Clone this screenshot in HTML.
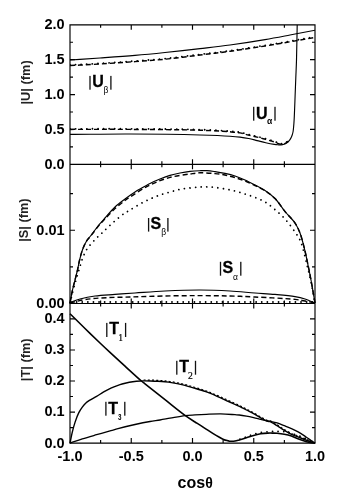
<!DOCTYPE html>
<html><head><meta charset="utf-8"><title>chart</title>
<style>html,body{margin:0;padding:0;background:#fff;}svg{display:block;filter:grayscale(1);}</style>
</head><body>
<svg width="350" height="498" viewBox="0 0 350 498">
<rect width="350" height="498" fill="#fff"/>
<defs><clipPath id="c1"><rect x="70.0" y="24.8" width="245.0" height="139.5"/></clipPath></defs>
<g clip-path="url(#c1)">
<path d="M70.00 60.00 C80.00 59.33 89.62 58.73 100.00 58.00 C111.22 57.21 123.79 56.36 135.00 55.40 C145.39 54.51 154.62 53.58 165.00 52.50 C176.22 51.33 188.79 49.90 200.00 48.60 C210.39 47.40 219.63 46.42 230.00 45.00 C241.23 43.46 254.32 41.41 265.00 39.60 C274.04 38.07 281.67 36.57 290.00 35.00 C298.34 33.43 306.67 31.80 315.00 30.20" fill="none" stroke="#000" stroke-width="1.15" stroke-linejoin="round"/>
<path d="M70.00 65.60 C80.00 65.07 89.62 64.63 100.00 64.00 C111.22 63.32 123.78 62.43 135.00 61.60 C145.39 60.83 154.63 60.24 165.00 59.20 C176.23 58.08 188.78 56.36 200.00 55.00 C210.39 53.74 219.63 52.73 230.00 51.30 C241.23 49.76 254.32 47.71 265.00 46.00 C274.04 44.56 281.67 43.23 290.00 41.80 C298.34 40.37 306.67 38.87 315.00 37.40" fill="none" stroke="#000" stroke-width="1.45" stroke-dasharray="5 3"/>
<path d="M70.00 65.60 C80.00 65.07 89.62 64.63 100.00 64.00 C111.22 63.32 123.78 62.43 135.00 61.60 C145.39 60.83 154.63 60.24 165.00 59.20 C176.23 58.08 188.78 56.36 200.00 55.00 C210.39 53.74 219.63 52.73 230.00 51.30 C241.23 49.76 254.32 47.71 265.00 46.00 C274.04 44.56 281.67 43.23 290.00 41.80 C298.34 40.37 306.67 38.87 315.00 37.40" fill="none" stroke="#000" stroke-width="1.8" stroke-linecap="round" stroke-dasharray="0.01 5.6" transform="translate(0,-0.6)"/>
<path d="M70.00 134.40 C90.00 134.27 109.23 133.92 130.00 134.00 C152.43 134.09 181.54 134.50 200.00 135.00 C212.09 135.33 222.68 135.72 230.00 136.20 C234.23 136.47 236.80 136.70 240.00 137.10 C242.98 137.48 245.75 137.92 248.60 138.50 C251.45 139.08 254.26 139.89 257.10 140.60 C259.96 141.32 262.82 142.17 265.70 142.80 C268.56 143.43 272.02 144.07 274.30 144.40 C275.78 144.62 276.83 144.72 278.00 144.80 C279.05 144.87 280.00 144.98 281.00 144.90 C282.00 144.82 283.09 144.62 284.00 144.30 C284.84 144.00 285.55 143.58 286.30 143.10 C287.09 142.59 287.90 142.02 288.60 141.30 C289.35 140.53 290.02 139.60 290.60 138.60 C291.23 137.52 291.78 136.21 292.20 135.00 C292.60 133.84 292.85 132.92 293.10 131.50 C293.48 129.37 293.69 126.19 293.90 123.40 C294.13 120.43 294.23 117.78 294.40 114.20 C294.63 109.18 294.87 102.12 295.10 96.10 C295.33 90.09 295.57 84.11 295.80 78.10 C296.03 72.08 296.29 67.03 296.50 60.00 C296.79 50.20 296.97 36.53 297.20 24.80" fill="none" stroke="#000" stroke-width="1.15" stroke-linejoin="round"/>
<path d="M70.00 129.40 C90.00 129.40 109.23 129.28 130.00 129.40 C152.43 129.53 181.54 129.60 200.00 130.20 C212.09 130.59 222.69 131.20 230.00 131.80 C234.23 132.15 236.81 132.32 240.00 132.90 C242.99 133.44 245.74 134.40 248.60 135.10 C251.44 135.80 254.26 136.39 257.10 137.10 C259.96 137.82 262.84 138.60 265.70 139.40 C268.57 140.20 271.82 141.06 274.30 141.90 C276.24 142.56 277.82 143.53 279.40 143.90 C280.68 144.20 281.85 144.38 283.00 144.20 C284.15 144.02 285.33 143.37 286.30 142.80 C287.17 142.28 287.83 141.60 288.60 141.00" fill="none" stroke="#000" stroke-width="1.45" stroke-dasharray="5 3"/>
<path d="M70.00 129.40 C90.00 129.40 109.23 129.28 130.00 129.40 C152.43 129.53 181.54 129.60 200.00 130.20 C212.09 130.59 222.69 131.20 230.00 131.80 C234.23 132.15 236.81 132.32 240.00 132.90 C242.99 133.44 245.74 134.40 248.60 135.10 C251.44 135.80 254.26 136.39 257.10 137.10 C259.96 137.82 262.84 138.60 265.70 139.40 C268.57 140.20 271.82 141.06 274.30 141.90 C276.24 142.56 277.82 143.53 279.40 143.90 C280.68 144.20 281.85 144.38 283.00 144.20 C284.15 144.02 285.33 143.37 286.30 142.80 C287.17 142.28 287.83 141.60 288.60 141.00" fill="none" stroke="#000" stroke-width="1.8" stroke-linecap="round" stroke-dasharray="0.01 5.6" transform="translate(0,-0.6)"/>
</g>
<path d="M70.00 303.00 C70.83 298.67 71.61 294.04 72.50 290.00 C73.29 286.44 74.17 283.33 75.00 280.00 C75.83 276.67 76.73 273.34 77.50 270.00 C78.26 266.67 78.79 263.32 79.60 260.00 C80.42 256.65 81.21 253.22 82.40 250.00 C83.58 246.82 85.16 243.30 86.70 240.80 C87.90 238.86 89.19 237.70 90.50 236.00 C91.95 234.12 93.45 232.01 95.00 230.00 C96.61 227.91 98.31 225.73 100.00 223.70 C101.64 221.73 103.04 220.20 105.00 218.00 C107.75 214.92 111.53 210.26 115.00 207.00 C118.22 203.98 121.63 201.53 125.00 199.00 C128.29 196.53 132.21 193.81 135.00 192.00 C136.93 190.75 138.04 190.14 140.00 189.00 C142.75 187.40 146.63 185.08 150.00 183.40 C153.29 181.76 156.64 180.34 160.00 179.00 C163.31 177.68 166.64 176.41 170.00 175.40 C173.31 174.41 176.65 173.67 180.00 173.00 C183.32 172.34 186.66 171.78 190.00 171.40 C193.32 171.02 196.96 170.83 200.00 170.70 C202.54 170.59 204.59 170.47 207.00 170.60 C209.58 170.74 212.19 171.17 215.00 171.60 C218.15 172.08 221.68 172.67 225.00 173.40 C228.35 174.14 231.70 174.92 235.00 176.00 C238.37 177.11 241.70 178.52 245.00 180.00 C248.37 181.51 251.68 183.26 255.00 185.00 C258.35 186.76 261.76 188.33 265.00 190.50 C268.44 192.79 271.85 195.29 275.00 198.50 C278.57 202.13 281.60 207.35 285.00 211.50 C288.27 215.50 292.41 219.14 295.00 223.00 C297.21 226.31 298.50 229.10 300.00 233.00 C301.94 238.05 303.61 245.36 305.00 251.00 C306.21 255.94 307.02 260.25 308.00 265.00 C309.02 269.91 309.96 274.46 311.00 280.00 C312.28 286.84 313.67 295.33 315.00 303.00" fill="none" stroke="#000" stroke-width="1.15" stroke-linejoin="round"/>
<path d="M70.00 303.00 C70.83 298.67 71.61 294.04 72.50 290.00 C73.29 286.44 74.17 283.33 75.00 280.00 C75.83 276.67 76.73 273.34 77.50 270.00 C78.26 266.67 78.79 263.32 79.60 260.00 C80.42 256.65 81.21 253.22 82.40 250.00 C83.58 246.82 85.14 243.24 86.70 240.80 C87.89 238.94 89.20 237.91 90.50 236.30 C91.95 234.50 93.45 232.47 95.00 230.50 C96.62 228.44 98.29 226.16 100.00 224.20 C101.62 222.34 103.05 221.04 105.00 219.00 C107.76 216.11 111.56 211.66 115.00 208.50 C118.24 205.53 122.21 202.59 125.00 200.50 C126.93 199.06 127.74 198.46 130.00 197.00 C134.41 194.14 143.18 188.31 150.00 185.00 C156.53 181.83 163.24 179.24 170.00 177.40 C176.58 175.61 184.47 174.80 190.00 174.00 C193.90 173.44 196.32 172.92 200.00 172.80 C204.49 172.65 210.51 173.17 215.00 173.60 C218.68 173.95 221.69 174.34 225.00 175.00 C228.35 175.67 231.68 176.61 235.00 177.60 C238.35 178.60 241.70 179.70 245.00 181.00 C248.37 182.33 251.69 183.90 255.00 185.50 C258.36 187.13 261.76 188.62 265.00 190.70 C268.44 192.91 271.85 195.33 275.00 198.50 C278.58 202.10 281.60 207.35 285.00 211.50 C288.27 215.50 292.41 219.14 295.00 223.00 C297.21 226.31 298.50 229.10 300.00 233.00 C301.94 238.05 303.61 245.36 305.00 251.00 C306.21 255.94 307.02 260.25 308.00 265.00 C309.02 269.91 309.96 274.46 311.00 280.00 C312.28 286.84 313.67 295.33 315.00 303.00" fill="none" stroke="#000" stroke-width="1.45" stroke-dasharray="5 3"/>
<path d="M70.00 303.00 C71.00 299.00 71.98 294.91 73.00 291.00 C73.98 287.25 74.98 283.57 76.00 280.00 C76.98 276.58 78.00 273.33 79.00 270.00 C80.00 266.67 80.79 263.30 82.00 260.00 C83.24 256.63 84.43 253.20 86.40 250.00 C88.54 246.51 91.84 242.96 94.60 240.00 C97.05 237.37 99.29 235.56 102.00 233.00 C105.30 229.88 109.27 225.88 113.00 222.60 C116.61 219.42 120.81 215.84 124.00 213.60 C126.24 212.03 127.75 211.35 130.00 210.00 C132.91 208.25 136.63 205.85 140.00 204.00 C143.30 202.19 146.63 200.51 150.00 199.00 C153.30 197.52 156.64 196.17 160.00 195.00 C163.31 193.84 166.66 192.94 170.00 192.00 C173.32 191.07 176.65 190.07 180.00 189.40 C183.31 188.74 186.66 188.40 190.00 188.00 C193.33 187.60 196.96 187.17 200.00 187.00 C202.54 186.86 204.59 186.84 207.00 186.90 C209.58 186.96 212.19 187.09 215.00 187.40 C218.16 187.75 221.67 188.40 225.00 189.00 C228.34 189.60 231.69 190.17 235.00 191.00 C238.35 191.84 241.68 192.94 245.00 194.00 C248.34 195.07 251.70 196.08 255.00 197.40 C258.37 198.74 261.77 200.06 265.00 202.00 C268.45 204.07 271.74 206.84 275.00 209.60 C278.41 212.49 281.80 215.47 285.00 219.00 C288.50 222.86 292.31 228.13 295.00 232.00 C297.04 234.93 298.67 237.17 300.00 240.00 C301.34 242.84 302.00 245.55 303.00 249.00 C304.32 253.55 305.69 259.58 307.00 265.00 C308.35 270.58 309.73 276.02 311.00 282.00 C312.41 288.62 313.67 296.00 315.00 303.00" fill="none" stroke="#000" stroke-width="1.8" stroke-linecap="round" stroke-dasharray="0.01 5.6"/>
<path d="M70.00 303.00 C71.33 302.33 72.51 301.62 74.00 301.00 C75.77 300.26 77.52 299.66 80.00 299.00 C83.85 297.98 89.62 296.75 95.00 296.00 C101.16 295.14 108.33 294.90 115.00 294.40 C121.67 293.90 127.66 293.50 135.00 293.00 C143.99 292.39 154.61 291.49 165.00 291.00 C176.21 290.47 188.78 289.97 200.00 290.00 C210.39 290.02 220.46 290.46 230.00 291.00 C238.72 291.49 247.13 292.41 255.00 293.00 C262.04 293.53 268.34 293.80 275.00 294.40 C281.67 295.00 289.50 295.64 295.00 296.60 C298.93 297.29 302.26 298.13 305.00 299.00 C306.98 299.63 308.33 300.33 310.00 301.00 C311.67 301.67 313.33 302.33 315.00 303.00" fill="none" stroke="#000" stroke-width="1.15" stroke-linejoin="round"/>
<path d="M70.00 303.00 C72.67 302.33 75.42 301.58 78.00 301.00 C80.40 300.46 82.22 300.03 85.00 299.60 C89.05 298.98 94.13 298.41 100.00 298.00 C108.28 297.42 119.61 297.32 130.00 297.00 C141.22 296.65 153.33 296.23 165.00 296.00 C176.67 295.77 188.78 295.59 200.00 295.60 C210.39 295.61 220.46 295.75 230.00 296.00 C238.71 296.23 245.69 296.53 255.00 297.00 C266.78 297.59 286.13 298.43 295.00 299.40 C299.46 299.89 301.67 300.40 305.00 301.00 C308.34 301.60 311.67 302.33 315.00 303.00" fill="none" stroke="#000" stroke-width="1.45" stroke-dasharray="5 3"/>
<path d="M71.00 302.00 C152.00 302.00 233.00 302.00 314.00 302.00" fill="none" stroke="#000" stroke-width="1.8" stroke-linecap="round" stroke-dasharray="0.01 5.6"/>
<path d="M70.00 313.70 C75.00 318.63 79.99 323.60 85.00 328.50 C89.99 333.37 95.49 338.70 100.00 343.00 C103.66 346.49 106.32 348.98 110.00 352.40 C114.48 356.57 119.88 361.53 125.00 366.20 C130.33 371.06 137.88 378.05 141.40 381.00 C143.00 382.34 143.32 382.48 145.00 383.80 C148.98 386.93 158.33 394.43 165.00 399.70 C171.66 404.96 179.41 411.37 185.00 415.40 C188.84 418.17 192.35 420.32 195.00 422.00 C196.72 423.09 197.77 423.64 199.30 424.60 C201.07 425.71 202.91 426.94 205.00 428.30 C207.57 429.97 211.05 432.34 213.60 433.90 C215.59 435.12 217.26 436.05 219.00 437.00 C220.59 437.87 222.16 438.77 223.60 439.40 C224.80 439.92 225.95 440.29 227.00 440.60 C227.89 440.86 228.66 441.08 229.50 441.20 C230.33 441.31 231.13 441.33 232.00 441.30 C232.96 441.27 233.92 441.19 235.00 441.00 C236.31 440.77 237.69 440.34 239.30 439.90 C241.38 439.33 244.03 438.54 246.40 437.80 C248.80 437.05 251.19 436.07 253.60 435.40 C255.96 434.74 258.31 434.18 260.70 433.80 C263.08 433.42 265.70 433.21 267.90 433.10 C269.74 433.01 271.39 433.06 273.00 433.10 C274.44 433.14 275.55 433.15 277.10 433.30 C279.17 433.49 281.92 433.83 284.30 434.30 C286.69 434.77 289.05 435.32 291.40 436.10 C293.82 436.91 296.20 438.18 298.60 439.10 C300.96 440.01 303.61 441.02 305.70 441.60 C307.30 442.05 308.51 442.25 310.00 442.50 C311.60 442.76 313.33 442.90 315.00 443.10" fill="none" stroke="#000" stroke-width="1.6" stroke-linejoin="round"/>
<path d="M240.00 439.20 C242.13 438.40 244.20 437.61 246.40 436.80 C248.73 435.94 251.19 434.90 253.60 434.20 C255.95 433.51 258.31 433.02 260.70 432.60 C263.08 432.18 265.70 431.90 267.90 431.70 C269.74 431.53 271.39 431.45 273.00 431.40 C274.44 431.36 275.54 431.38 277.10 431.40 C279.16 431.43 282.17 431.30 284.30 431.60 C286.05 431.84 287.51 432.38 289.00 432.80 C290.37 433.18 291.48 433.57 292.90 434.00 C294.62 434.52 296.61 435.04 298.60 435.70 C300.85 436.45 303.65 437.41 305.70 438.30 C307.34 439.02 308.51 439.73 310.00 440.50 C311.61 441.33 313.33 442.23 315.00 443.10" fill="none" stroke="#000" stroke-width="1.8" stroke-linecap="round" stroke-dasharray="0.01 5.6"/>
<path d="M70.00 443.10 C70.77 439.43 71.43 435.67 72.30 432.10 C73.14 428.67 74.02 425.34 75.10 422.10 C76.16 418.94 77.37 415.56 78.70 412.90 C79.81 410.69 81.03 408.83 82.30 407.10 C83.44 405.54 84.63 404.06 85.90 402.90 C87.02 401.88 88.00 401.29 89.40 400.40 C91.34 399.17 94.23 397.81 96.60 396.40 C99.00 394.98 101.30 393.29 103.70 391.90 C106.06 390.53 108.48 389.21 110.90 388.10 C113.25 387.02 115.95 386.03 118.00 385.30 C119.54 384.75 120.53 384.44 122.10 384.00 C124.16 383.42 126.90 382.67 129.30 382.20 C131.66 381.74 134.02 381.42 136.40 381.20 C138.79 380.98 141.21 380.93 143.60 380.90 C145.97 380.87 148.33 380.93 150.70 381.00 C153.09 381.07 155.51 381.17 157.90 381.30 C160.28 381.43 162.70 381.58 165.00 381.80 C167.19 382.01 168.96 382.20 171.40 382.60 C174.68 383.13 179.09 383.99 182.90 384.90 C186.73 385.82 190.51 386.97 194.30 388.10 C198.11 389.24 201.93 390.35 205.70 391.70 C209.53 393.07 213.31 394.68 217.10 396.30 C220.94 397.94 224.77 399.78 228.60 401.50 C232.41 403.21 236.77 405.02 240.00 406.60 C242.46 407.80 244.20 408.85 246.40 410.00 C248.73 411.22 251.23 412.39 253.60 413.70 C255.99 415.02 258.30 416.61 260.70 417.90 C263.07 419.17 266.18 420.92 267.90 421.40 C268.78 421.65 269.13 421.32 270.00 421.60 C271.71 422.15 274.74 424.25 277.10 425.70 C279.51 427.18 281.88 428.95 284.30 430.40 C286.65 431.81 288.99 433.17 291.40 434.30 C293.76 435.40 296.21 436.15 298.60 437.10 C300.98 438.05 303.16 439.06 305.70 440.00 C308.57 441.06 311.90 442.07 315.00 443.10" fill="none" stroke="#000" stroke-width="1.4" stroke-linejoin="round"/>
<path d="M143.60 380.00 C145.97 380.03 148.33 380.03 150.70 380.10 C153.09 380.17 155.51 380.27 157.90 380.40 C160.28 380.53 162.70 380.68 165.00 380.90 C167.19 381.11 168.96 381.30 171.40 381.70 C174.68 382.23 179.09 383.09 182.90 384.00 C186.73 384.92 190.51 386.07 194.30 387.20 C198.11 388.34 201.93 389.45 205.70 390.80 C209.53 392.17 213.31 393.78 217.10 395.40 C220.94 397.04 224.77 398.88 228.60 400.60 C232.41 402.31 236.77 404.12 240.00 405.70 C242.46 406.90 244.20 407.95 246.40 409.10 C248.73 410.32 251.23 411.49 253.60 412.80 C255.99 414.12 258.30 415.71 260.70 417.00 C263.07 418.27 266.18 420.02 267.90 420.50 C268.78 420.75 269.13 420.42 270.00 420.70 C271.71 421.25 274.74 423.35 277.10 424.80 C279.51 426.28 281.88 428.05 284.30 429.50 C286.65 430.91 288.99 432.27 291.40 433.40 C293.76 434.50 296.21 435.25 298.60 436.20 C300.98 437.15 303.16 438.16 305.70 439.10 C308.57 440.16 311.90 441.17 315.00 442.20" fill="none" stroke="#000" stroke-width="1.2" stroke-dasharray="2 2.2"/>
<path d="M70.00 443.10 C74.10 441.70 78.03 440.26 82.30 438.90 C86.87 437.45 91.83 436.07 96.60 434.70 C101.36 433.33 106.96 431.83 110.90 430.70 C113.68 429.90 115.11 429.37 118.00 428.60 C122.44 427.41 129.50 425.71 135.00 424.50 C140.14 423.37 145.50 422.29 150.00 421.50 C153.66 420.86 156.67 420.55 160.00 420.00 C163.34 419.45 166.33 418.85 170.00 418.20 C174.49 417.41 180.49 416.15 185.00 415.60 C188.66 415.16 191.56 415.11 195.00 414.90 C198.67 414.67 202.38 414.46 206.40 414.30 C210.90 414.12 215.93 413.83 220.70 413.90 C225.47 413.97 231.62 414.49 235.00 414.70 C236.85 414.82 237.69 414.82 239.30 415.00 C241.38 415.23 244.03 415.67 246.40 416.10 C248.80 416.54 251.21 417.07 253.60 417.60 C255.98 418.13 258.32 418.74 260.70 419.30 C263.09 419.87 265.35 420.44 267.90 421.00 C270.77 421.64 274.25 422.06 277.10 422.90 C279.68 423.66 281.91 424.75 284.30 425.70 C286.68 426.65 289.04 427.55 291.40 428.60 C293.81 429.68 296.25 430.77 298.60 432.10 C301.02 433.46 303.48 435.20 305.70 436.70 C307.72 438.06 309.71 439.54 311.40 440.70 C312.73 441.61 313.80 442.30 315.00 443.10" fill="none" stroke="#000" stroke-width="1.3" stroke-linejoin="round"/>
<path d="M70.00 24.80 H315.00 V443.10 H70.00 Z M70.00 164.30 H315.00 M70.00 303.50 H315.00 M100.62 24.80 v3.00 M100.62 161.30 v6.00 M100.62 300.50 v6.00 M100.62 443.10 v-3.00 M131.25 24.80 v5.00 M131.25 159.30 v10.00 M131.25 298.50 v10.00 M131.25 443.10 v-5.00 M161.88 24.80 v3.00 M161.88 161.30 v6.00 M161.88 300.50 v6.00 M161.88 443.10 v-3.00 M192.50 24.80 v5.00 M192.50 159.30 v10.00 M192.50 298.50 v10.00 M192.50 443.10 v-5.00 M223.12 24.80 v3.00 M223.12 161.30 v6.00 M223.12 300.50 v6.00 M223.12 443.10 v-3.00 M253.75 24.80 v5.00 M253.75 159.30 v10.00 M253.75 298.50 v10.00 M253.75 443.10 v-5.00 M284.38 24.80 v3.00 M284.38 161.30 v6.00 M284.38 300.50 v6.00 M284.38 443.10 v-3.00 M70.00 129.43 h5.00 M315.00 129.43 h-5.00 M70.00 94.55 h5.00 M315.00 94.55 h-5.00 M70.00 59.68 h5.00 M315.00 59.68 h-5.00 M70.00 146.86 h3.00 M315.00 146.86 h-3.00 M70.00 111.99 h3.00 M315.00 111.99 h-3.00 M70.00 77.11 h3.00 M315.00 77.11 h-3.00 M70.00 42.24 h3.00 M315.00 42.24 h-3.00 M70.00 230.20 h5.00 M315.00 230.20 h-5.00 M70.00 266.85 h3.00 M315.00 266.85 h-3.00 M70.00 193.55 h3.00 M315.00 193.55 h-3.00 M70.00 412.05 h5.00 M315.00 412.05 h-5.00 M70.00 381.00 h5.00 M315.00 381.00 h-5.00 M70.00 349.95 h5.00 M315.00 349.95 h-5.00 M70.00 318.90 h5.00 M315.00 318.90 h-5.00 M70.00 427.58 h3.00 M315.00 427.58 h-3.00 M70.00 396.53 h3.00 M315.00 396.53 h-3.00 M70.00 365.48 h3.00 M315.00 365.48 h-3.00 M70.00 334.43 h3.00 M315.00 334.43 h-3.00 " stroke="#000" stroke-width="1.15" fill="none"/>
<g font-family="Liberation Sans, sans-serif" font-weight="bold" font-size="14.5" fill="#000" text-anchor="end">
<text x="64.6" y="29.20">2.0</text>
<text x="64.6" y="64.08">1.5</text>
<text x="64.6" y="98.95">1.0</text>
<text x="64.6" y="133.83">0.5</text>
<text x="64.6" y="168.70">0.0</text>
<text x="64.6" y="234.60">0.01</text>
<text x="64.6" y="307.90">0.00</text>
<text x="64.6" y="323.30">0.4</text>
<text x="64.6" y="354.35">0.3</text>
<text x="64.6" y="385.40">0.2</text>
<text x="64.6" y="416.45">0.1</text>
<text x="64.6" y="447.50">0.0</text>
</g>
<g font-family="Liberation Sans, sans-serif" font-weight="bold" font-size="14.5" fill="#000" text-anchor="middle">
<text x="70.00" y="460.7">-1.0</text>
<text x="131.25" y="460.7">-0.5</text>
<text x="192.50" y="460.7">0.0</text>
<text x="253.75" y="460.7">0.5</text>
<text x="315.00" y="460.7">1.0</text>
</g>
<text x="177.6" y="487.7" font-family="Liberation Sans, sans-serif" font-weight="bold" font-size="16" fill="#000">cos<tspan font-size="14">θ</tspan></text>
<text font-family="Liberation Sans, sans-serif" font-weight="bold" font-size="12.8" fill="#222" text-anchor="middle" transform="translate(30.2,82.4) rotate(-90)">|U| (fm)</text>
<text font-family="Liberation Sans, sans-serif" font-weight="bold" font-size="12.8" fill="#222" text-anchor="middle" transform="translate(28.1,220.1) rotate(-90)">|S| (fm)</text>
<text font-family="Liberation Sans, sans-serif" font-weight="bold" font-size="12.8" fill="#222" text-anchor="middle" transform="translate(30.3,359.8) rotate(-90)">|T| (fm)</text>
<g font-family="Liberation Sans, sans-serif" fill="#000">
<rect x="89.35" y="75.90" width="1.3" height="13.80" fill="#111"/>
<text x="92.30" y="87.30" font-size="16" font-weight="bold" stroke="#000" stroke-width="0.3">U</text>
<text x="103.40" y="92.60" font-size="8.5">β</text>
<rect x="110.25" y="75.90" width="1.3" height="13.80" fill="#111"/>
</g>
<g font-family="Liberation Sans, sans-serif" fill="#000">
<rect x="253.05" y="106.80" width="1.3" height="13.90" fill="#111"/>
<text x="256.00" y="118.50" font-size="16" font-weight="bold" stroke="#000" stroke-width="0.3">U</text>
<text x="267.00" y="124.00" font-size="8.5" font-weight="bold">α</text>
<rect x="274.35" y="106.80" width="1.3" height="13.90" fill="#111"/>
</g>
<g font-family="Liberation Sans, sans-serif" fill="#000">
<rect x="147.95" y="218.00" width="1.3" height="13.60" fill="#111"/>
<text x="150.40" y="229.10" font-size="16" font-weight="bold" stroke="#000" stroke-width="0.3">S</text>
<text x="161.30" y="235.30" font-size="8.5">β</text>
<rect x="167.25" y="218.00" width="1.3" height="13.60" fill="#111"/>
</g>
<g font-family="Liberation Sans, sans-serif" fill="#000">
<rect x="219.85" y="261.80" width="1.3" height="13.90" fill="#111"/>
<text x="222.40" y="273.30" font-size="16" font-weight="bold" stroke="#000" stroke-width="0.3">S</text>
<text x="233.00" y="279.70" font-size="8.5">α</text>
<rect x="240.15" y="261.80" width="1.3" height="13.90" fill="#111"/>
</g>
<g font-family="Liberation Sans, sans-serif" fill="#000">
<rect x="106.15" y="322.90" width="1.3" height="14.10" fill="#111"/>
<text x="109.20" y="334.40" font-size="16" font-weight="bold" stroke="#000" stroke-width="0.3">T</text>
<text x="118.20" y="340.60" font-size="9.6" font-family="Liberation Serif, serif" stroke="#000" stroke-width="0.2">1</text>
<rect x="124.95" y="322.90" width="1.3" height="14.10" fill="#111"/>
</g>
<g font-family="Liberation Sans, sans-serif" fill="#000">
<rect x="176.15" y="360.80" width="1.3" height="13.90" fill="#111"/>
<text x="179.20" y="372.20" font-size="16" font-weight="bold" stroke="#000" stroke-width="0.3">T</text>
<text x="188.00" y="378.80" font-size="9.6" font-family="Liberation Serif, serif" stroke="#000" stroke-width="0.2">2</text>
<rect x="194.85" y="360.80" width="1.3" height="13.90" fill="#111"/>
</g>
<g font-family="Liberation Sans, sans-serif" fill="#000">
<rect x="105.25" y="401.80" width="1.3" height="13.90" fill="#111"/>
<text x="108.30" y="413.60" font-size="16" font-weight="bold" stroke="#000" stroke-width="0.3">T</text>
<text x="117.90" y="419.50" font-size="8.5" font-weight="bold" textLength="3.5" lengthAdjust="spacingAndGlyphs">3</text>
<rect x="124.15" y="401.80" width="1.3" height="13.90" fill="#111"/>
</g>
</svg>
</body></html>
